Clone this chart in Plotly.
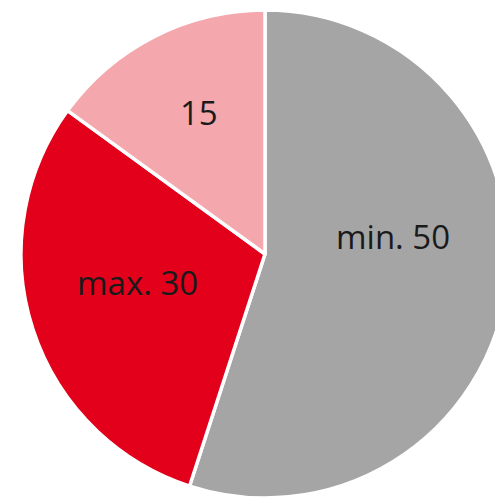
import math
import plotly.graph_objects as go

# Slice data (clockwise from 12 o'clock)
categories = ["min. 50", "max. 30", "15"]
values = [55, 30, 15]
slice_labels = ["min. 50", "max. 30", "15"]
colors = ["#A5A5A5", "#E2001A", "#F4A7AC"]

# Label placement: radial fraction along each slice bisector, plus pixel nudges
label_radius = 0.55
label_nudge_x = [-5, 0, -5]
label_nudge_y = [38, 13, 22]

W, H = 520, 510
cx, cy, r = 265, 254, 244  # pie centre and radius in px (cy from top)

fig = go.Figure(
    go.Pie(
        labels=categories,
        values=values,
        textinfo="none",
        sort=False,
        direction="clockwise",
        rotation=0,
        marker=dict(colors=colors, line=dict(color="white", width=3.5)),
        domain=dict(
            x=[(cx - r) / W, (cx + r) / W],
            y=[(H - cy - r) / H, (H - cy + r) / H],
        ),
        showlegend=False,
        hoverinfo="skip",
    )
)

# Place each slice label at its bisector angle, derived from the values
total = sum(values)
start = 0.0
for i, v in enumerate(values):
    mid = (start + v / 2) / total * 2 * math.pi  # clockwise from top
    start += v
    px = cx + label_radius * r * math.sin(mid)
    py = cy - label_radius * r * math.cos(mid)
    fig.add_annotation(
        x=px / W,
        y=(H - py) / H,
        xref="paper",
        yref="paper",
        text=slice_labels[i],
        showarrow=False,
        xanchor="center",
        yanchor="middle",
        xshift=label_nudge_x[i],
        yshift=label_nudge_y[i],
        font=dict(family="Open Sans", size=33, color="#1a1a1a"),
    )

fig.update_layout(
    width=W,
    height=H,
    margin=dict(l=0, r=0, t=0, b=0),
    paper_bgcolor="white",
    plot_bgcolor="white",
)

fig.write_html(
    "out.html",
    config={"displayModeBar": False},
    post_script="document.documentElement.style.overflow='hidden';document.body.style.overflow='hidden';document.body.style.margin='0';",
)
